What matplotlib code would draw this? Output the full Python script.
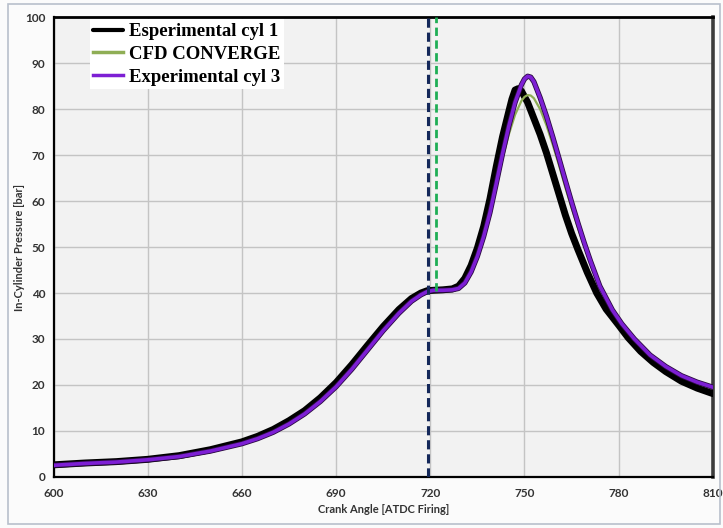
import numpy as np
import matplotlib.pyplot as plt
import matplotlib.patheffects as pe
from matplotlib.patches import Rectangle

# cylinder 1 (experimental)
ang_cyl1 = [600, 610, 620, 630, 640, 650, 660, 665, 670, 675, 680, 685, 690, 695,
            700, 705, 710, 714, 717, 719, 721, 724, 727, 729, 731, 733, 735, 737,
            739, 741, 743, 745, 746, 747, 748, 749, 751, 753, 755, 757, 759, 761,
            763, 765, 767, 770, 773, 776, 780, 783, 787, 791, 795, 800, 805, 810]
p_cyl1 = [2.6, 3.0, 3.3, 3.8, 4.6, 5.9, 7.6, 8.8, 10.3, 12.2, 14.4, 17.2, 20.5, 24.4,
          28.6, 32.7, 36.4, 38.8, 40.0, 40.5, 40.6, 40.7, 40.9, 41.5, 43.2, 46.0, 49.8, 54.5,
          60.5, 67.5, 74.0, 79.5, 82.2, 84.2, 84.5, 84.0, 81.5, 78.0, 74.5, 70.5, 66.0, 61.5,
          57.0, 53.0, 49.5, 44.5, 40.0, 36.5, 33.0, 30.3, 27.3, 24.9, 22.9, 20.8, 19.3, 18.1]

# cylinder 3 (experimental)
ang_cyl3 = [600, 610, 620, 630, 640, 650, 660, 665, 670, 675, 680, 685, 690, 695,
            700, 705, 710, 714, 717, 719, 721, 724, 727, 729, 731, 733, 735, 737,
            739, 741, 743, 745, 747, 749, 750, 751, 752, 753, 755, 757, 759, 761,
            763, 765, 767, 769, 771, 774, 778, 781, 785, 790, 795, 800, 805, 810]
p_cyl3 = [2.5, 2.9, 3.2, 3.7, 4.4, 5.6, 7.2, 8.3, 9.7, 11.5, 13.7, 16.4, 19.6, 23.4,
          27.6, 31.8, 35.6, 38.2, 39.6, 40.3, 40.6, 40.6, 40.7, 41.0, 42.2, 44.6, 48.0, 52.3,
          57.5, 63.8, 70.3, 76.3, 81.5, 85.3, 86.6, 87.2, 87.0, 86.0, 82.5, 78.5, 74.0, 69.3,
          64.5, 59.8, 55.3, 51.0, 47.0, 41.5, 36.3, 33.3, 30.0, 26.5, 24.0, 22.0, 20.6, 19.5]

# CFD CONVERGE
ang_cfd = [720, 724, 727, 729, 731, 733, 735, 737, 739, 741, 743, 745, 747, 749,
           750, 751, 752, 753, 755, 757, 759, 761, 763, 765, 767, 769, 771, 774,
           778, 781, 785, 790, 795, 800, 805, 810]
p_cfd = [40.6, 40.6, 40.7, 41.1, 42.4, 44.9, 48.3, 52.6, 57.8, 63.6, 69.3, 74.5, 78.8, 81.8,
         82.7, 83.1, 83.0, 82.4, 80.0, 76.5, 72.3, 67.8, 63.0, 58.5, 54.3, 50.3, 46.5, 41.3,
         36.2, 33.2, 29.9, 26.4, 23.9, 21.9, 20.5, 19.4]

x_ticks = [600, 630, 660, 690, 720, 750, 780, 810]
y_ticks = [0, 10, 20, 30, 40, 50, 60, 70, 80, 90, 100]

fig = plt.figure(figsize=(7.23, 5.28), dpi=100)
fig.patch.set_facecolor('#fbfbfb')
fig.patches.append(Rectangle((0.011, 0.008), 0.985, 0.985, transform=fig.transFigure,
                             fill=False, edgecolor='#b8c0cc', lw=1.2))
ax = fig.add_axes([0.074, 0.097, 0.912, 0.87])
ax.set_facecolor('#f2f2f2')

ax.plot(ang_cyl1, p_cyl1, color='black', lw=5.0, solid_capstyle='round',
        label='Esperimental cyl 1', zorder=3)
ax.plot(ang_cfd, p_cfd, color='#8fae55', lw=1.6, label='CFD CONVERGE', zorder=4)
ax.plot(ang_cyl3, p_cyl3, color='#7d1fd4', lw=2.6, label='Experimental cyl 3', zorder=5,
        path_effects=[pe.Stroke(linewidth=3.8, foreground='#2a0a40'), pe.Normal()])

# vertical reference markers
ax.plot([719.4, 719.4], [0, 100], color='#14285a', lw=2.2, ls=(0, (3, 1.6)), zorder=6)
ax.plot([721.8, 721.8], [40.5, 100], color='#1fae55', lw=2.0, ls=(0, (3, 1.6)), zorder=6)

ax.set_xlim(600, 810)
ax.set_ylim(0, 100)
ax.set_xticks(x_ticks)
ax.set_yticks(y_ticks)
ax.grid(True, color='#c4c4c4', lw=1.0)
ax.set_axisbelow(True)
ax.tick_params(length=0, labelsize=8.5, labelcolor='#333333')
ax.tick_params(axis='x', pad=8)
ax.tick_params(axis='y', pad=6)
for lab in ax.get_xticklabels() + ax.get_yticklabels():
    lab.set_fontfamily('Lato')
    lab.set_fontweight('bold')

for s in ['left', 'bottom', 'top']:
    ax.spines[s].set_color('black')
    ax.spines[s].set_linewidth(1.6)
ax.spines['top'].set_linewidth(2.0)
ax.spines['right'].set_color('#3c3c3c')
ax.spines['right'].set_linewidth(2.6)

ax.set_xlabel('Crank Angle [ATDC Firing]', fontsize=8, family='Lato', fontweight='bold',
              color='#333333', labelpad=4)
ax.set_ylabel('In-Cylinder Pressure [bar]', fontsize=8, family='Lato', fontweight='bold',
              color='#333333')
ax.yaxis.set_label_coords(-0.043, 0.5)

leg = ax.legend(loc='upper left', bbox_to_anchor=(0.052, 1.0), frameon=True, fancybox=False,
                prop={'family': 'Liberation Serif', 'weight': 'bold', 'size': 13.5},
                handlelength=1.6, handletextpad=0.3, labelspacing=0.3, borderpad=0.2,
                borderaxespad=0.1)
leg.get_frame().set_facecolor('white')
leg.get_frame().set_edgecolor('none')
leg.get_frame().set_alpha(1.0)
leg.get_lines()[0].set_linewidth(3)
leg.get_lines()[1].set_linewidth(2.5)
leg.get_lines()[2].set_linewidth(2.5)
leg.get_lines()[2].set_path_effects([])

plt.savefig('out.png', dpi=100)
